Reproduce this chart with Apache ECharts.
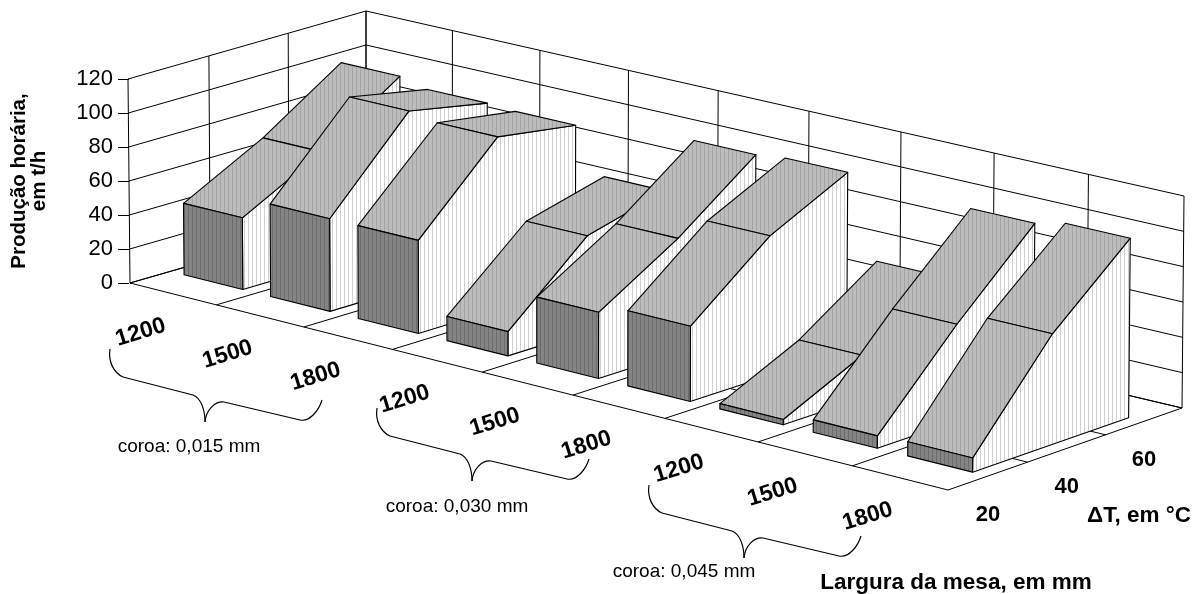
<!DOCTYPE html>
<html>
<head>
<meta charset="utf-8">
<title>Produção horária</title>
<style>
html, body { margin: 0; padding: 0; background: #fff; }
#chart { width: 1203px; height: 594px; }
</style>
<script src="https://cdn.jsdelivr.net/npm/echarts@6/dist/echarts.min.js"></script>
</head>
<body>
<div id="chart"></div>
<script>
// valores: producao (t/h) para dT = 20, 40, 60
var deltaT = ['20', '40', '60'];
var larguras = ['1200', '1500', '1800'];
var coroas = ['coroa: 0,015 mm', 'coroa: 0,030 mm', 'coroa: 0,045 mm'];
var yTicks = [0, 20, 40, 60, 80, 100, 120];

var coroa015 = [
	[42, 67, 98],
	[54, 103, 94],
	[54, 100, 93]
];
var coroa030 = [
	[14, 55, 67],
	[38, 66, 100],
	[43, 80, 102]
];
var coroa045 = [
	[3, 24.5, 55],
	[7, 55, 97.5],
	[8, 62.5, 101.5]
];

// cantos da caixa (A frente-esq, B frente-dir, C fundo-dir, D fundo-esq)
var floorBox = [[130, 283], [948, 490], [1182, 408], [366, 215]];
var topBox = [[128, 79], [950, 276], [1184, 196], [366, 11]];
var perspU = -0.055, perspV = 0.03;
var gridLeft = 129, gridTop = 79, gridW = 818, gridH = 204;
var barWidth = 0.68; // parte da largura da categoria ocupada pela faixa
// chave: curvas [x1,y1,cx1,cy1,cx2,cy2,x2,y2] na posicao do primeiro grupo
var braceCurves = [
	[110, 349, 108, 362, 114, 373, 123, 377],
	[123, 377, 146, 383, 170, 389, 193, 395],
	[193, 395, 201, 398, 205, 410, 205, 422],
	[205, 422, 206, 410, 215, 401, 224, 402],
	[224, 402, 249, 408, 275, 414, 300, 420],
	[300, 420, 310, 422, 319, 410, 322, 400]
];
var braceOffsets = [[0, 0], [267, 59], [539, 136]];
var coroaPos = [[189, 447], [457, 507], [684, 572]];

function warp(t, k) {
	return t * (1 + k) / (1 + k * t);
}

function bilinear(q, u, v) {
	return [0, 1].map(function (n) {
		return q[0][n] * (1 - u) * (1 - v) + q[1][n] * u * (1 - v) + q[2][n] * u * v + q[3][n] * (1 - u) * v;
	});
}

// u: 0-1 ao longo da largura, v: 0-1 em profundidade, t: 0-1 em altura
function project(u, v, t) {
	var uu = warp(u, perspU), vv = warp(v, perspV);
	var p0 = bilinear(floorBox, uu, vv), p1 = bilinear(topBox, uu, vv);
	return [p0[0] + (p1[0] - p0[0]) * t, p0[1] + (p1[1] - p0[1]) * t];
}

// passa pelas escalas do eixo e depois pela perspectiva
function pt(api, x, val, v) {
	var c = api.coord([x, val]);
	return project((c[0] - gridLeft) / gridW, v, (gridTop + gridH - c[1]) / gridH);
}

function hatch(base, line) {
	var cv = document.createElement('canvas');
	cv.width = 4;
	cv.height = 4;
	var ctx = cv.getContext('2d');
	ctx.fillStyle = base;
	ctx.fillRect(0, 0, 4, 4);
	ctx.fillStyle = line;
	ctx.fillRect(0, 0, 1, 4);
	return { image: cv, repeat: 'repeat' };
}
var fillTop = hatch('#bcbcbc', '#a4a4a4');
var fillFront = hatch('#848484', '#6c6c6c');
var fillSide = hatch('#ffffff', '#cfcfcf');

function line(a, b) {
	return {
		type: 'line',
		shape: { x1: a[0], y1: a[1], x2: b[0], y2: b[1] },
		style: { stroke: '#000', lineWidth: 1 }
	};
}

function poly(points, fill) {
	return {
		type: 'polygon',
		shape: { points: points },
		style: { fill: fill, stroke: '#000', lineWidth: 1.1, lineJoin: 'round' }
	};
}

function renderWalls(params, api) {
	var kids = [];
	var i;
	yTicks.forEach(function (y) {
		kids.push(line(pt(api, 0, y, 0), pt(api, 0, y, 1)));
		kids.push(line(pt(api, 0, y, 1), pt(api, 9, y, 1)));
	});
	for (i = 0; i <= 3; i++) {
		kids.push(line(pt(api, 0, 0, i / 3), pt(api, 0, 120, i / 3)));
		kids.push(line(pt(api, 0, 0, i / 3), pt(api, 9, 0, i / 3)));
	}
	for (i = 0; i <= 9; i++) {
		kids.push(line(pt(api, i, 0, 1), pt(api, i, 120, 1)));
		kids.push(line(pt(api, i, 0, 0), pt(api, i, 0, 1)));
	}
	return { type: 'group', children: kids };
}

function renderRibbon(params, api) {
	var idx = api.value(0);
	var vals = [api.value(1), api.value(2), api.value(3)];
	var x0 = idx + 0.5 - barWidth / 2, x1 = idx + 0.5 + barWidth / 2;
	var vs = [1 / 6, 1 / 2, 5 / 6];
	var kids = [];
	// lado direito
	kids.push(poly([
		pt(api, x1, 0, vs[0]), pt(api, x1, vals[0], vs[0]), pt(api, x1, vals[1], vs[1]),
		pt(api, x1, vals[2], vs[2]), pt(api, x1, 0, vs[2])
	], fillSide));
	// topo, de tras para a frente
	for (var k = 1; k >= 0; k--) {
		kids.push(poly([
			pt(api, x0, vals[k], vs[k]), pt(api, x1, vals[k], vs[k]),
			pt(api, x1, vals[k + 1], vs[k + 1]), pt(api, x0, vals[k + 1], vs[k + 1])
		], fillTop));
	}
	// frente
	kids.push(poly([
		pt(api, x0, 0, vs[0]), pt(api, x1, 0, vs[0]),
		pt(api, x1, vals[0], vs[0]), pt(api, x0, vals[0], vs[0])
	], fillFront));
	return { type: 'group', children: kids };
}

function renderWidthLabel(params, api) {
	var p = pt(api, api.value(0) + 0.5, 0, 0);
	return {
		type: 'text',
		x: p[0] - 32.5,
		y: p[1] + 38.5,
		rotation: 17 * Math.PI / 180,
		style: {
			text: larguras[api.value(0) % 3],
			font: 'bold 23px "Liberation Sans"',
			fill: '#000',
			textAlign: 'center',
			textVerticalAlign: 'middle'
		}
	};
}

function renderDeltaLabel(params, api) {
	var i = api.value(0);
	var p = pt(api, 9, 0, (i + 0.5) / 3);
	return {
		type: 'text',
		x: p[0],
		y: p[1] + 38.5,
		style: {
			text: deltaT[i],
			font: 'bold 22px "Liberation Sans"',
			fill: '#000',
			textAlign: 'center',
			textVerticalAlign: 'middle'
		}
	};
}

var ribbons = [];
[coroa015, coroa030, coroa045].forEach(function (grupo, g) {
	grupo.forEach(function (vals, w) {
		ribbons.push([g * 3 + w, vals[0], vals[1], vals[2]]);
	});
});
var labelRows = ribbons.map(function (r) { return [r[0], 0]; });
var deltaRows = deltaT.map(function (d, i) { return [i, 0]; });

var graphics = [];
braceOffsets.forEach(function (o, i) {
	braceCurves.forEach(function (c) {
		graphics.push({
			type: 'bezierCurve',
			x: o[0],
			y: o[1],
			shape: { x1: c[0], y1: c[1], cpx1: c[2], cpy1: c[3], cpx2: c[4], cpy2: c[5], x2: c[6], y2: c[7] },
			style: { fill: null, stroke: '#000', lineWidth: 1.2 }
		});
	});
	graphics.push({
		type: 'text',
		x: coroaPos[i][0],
		y: coroaPos[i][1],
		style: {
			text: coroas[i],
			font: '19px "Liberation Sans"',
			fill: '#000',
			textAlign: 'center',
			textVerticalAlign: 'middle'
		}
	});
});
graphics.push({
	type: 'text', x: 956, y: 583,
	style: { text: 'Largura da mesa, em mm', font: 'bold 22.5px "Liberation Sans"', fill: '#000', textAlign: 'center', textVerticalAlign: 'middle' }
});
graphics.push({
	type: 'text', x: 1139, y: 516,
	style: { text: 'ΔT, em °C', font: 'bold 22.5px "Liberation Sans"', fill: '#000', textAlign: 'center', textVerticalAlign: 'middle' }
});

var chart = echarts.init(document.getElementById('chart'), null, { renderer: 'canvas' });
chart.setOption({
	animation: false,
	backgroundColor: '#fff',
	textStyle: { fontFamily: 'Liberation Sans' },
	grid: { left: gridLeft, top: gridTop, width: gridW, height: gridH, outerBoundsMode: 'none' },
	xAxis: { type: 'value', min: 0, max: 9, show: false },
	yAxis: {
		type: 'value',
		min: 0,
		max: 120,
		interval: 20,
		name: 'Produção horária,\nem t/h',
		nameLocation: 'middle',
		nameRotate: 90,
		nameGap: 80,
		nameTextStyle: { fontSize: 20.5, fontWeight: 'bold', color: '#000', lineHeight: 20 },
		axisLine: { show: false },
		axisTick: { show: true, length: 11, lineStyle: { color: '#000', width: 1 } },
		axisLabel: { fontSize: 22, color: '#000', margin: 16 },
		splitLine: { show: false }
	},
	series: [
		{ type: 'custom', name: 'paredes', silent: true, renderItem: renderWalls, data: [[0, 0]], encode: { x: 0, y: 1 }, z: 1 },
		{ type: 'custom', name: 'producao', silent: true, renderItem: renderRibbon, data: ribbons, encode: { x: 0, y: [1, 2, 3] }, z: 2 },
		{ type: 'custom', name: 'largura', silent: true, renderItem: renderWidthLabel, data: labelRows, encode: { x: 0, y: 1 }, z: 3 },
		{ type: 'custom', name: 'deltaT', silent: true, renderItem: renderDeltaLabel, data: deltaRows, encode: { x: 0, y: 1 }, z: 3 }
	],
	graphic: graphics
});
</script>
</body>
</html>
